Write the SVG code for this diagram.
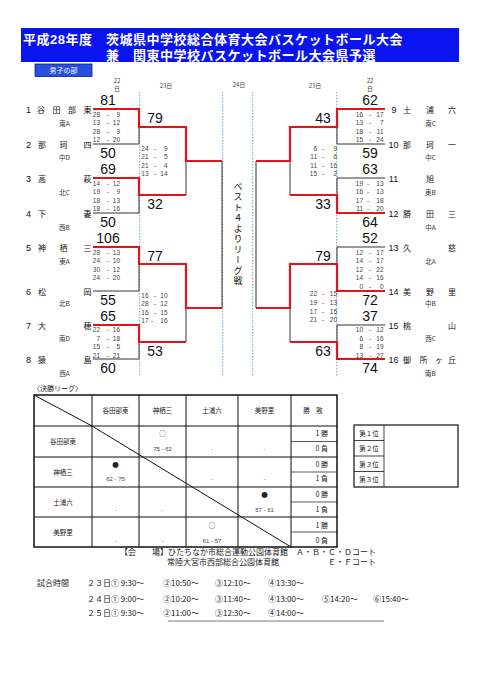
<svg xmlns="http://www.w3.org/2000/svg" width="481" height="680" viewBox="0 0 481 680">
<style>
text{font-family:"Liberation Sans","Noto Sans CJK JP",sans-serif;fill:#222}
.jp{font-family:"Noto Sans CJK JP","Liberation Sans",sans-serif}
.ttl{font-family:"Liberation Sans","Noto Sans CJK JP",sans-serif;font-weight:bold;font-size:13px;fill:#fff;letter-spacing:0.5px}
.nm{font-family:"Noto Sans CJK JP",sans-serif;font-size:8px;fill:#111}
.no{font-size:9px;text-anchor:middle;fill:#111}
.rg{font-family:"Noto Sans CJK JP",sans-serif;font-size:6.5px;text-anchor:middle;fill:#333}
.big{font-size:14px;text-anchor:middle;fill:#111}
.sc{font-size:6.5px;fill:#444}
.e{text-anchor:end}
.m{text-anchor:middle}
.dt{font-family:"Noto Sans CJK JP",sans-serif;font-size:6px;text-anchor:middle;fill:#444}
.red{fill:none;stroke:#e5121b;stroke-width:2.2}
.blk{fill:none;stroke:#333;stroke-width:1}
.dot{stroke:#6fa0d8;stroke-width:1;stroke-dasharray:1.5 1.5}
.tb{font-family:"Noto Sans CJK JP",sans-serif;font-size:6.5px;text-anchor:middle;fill:#222}
.ts{font-size:6px;text-anchor:middle;fill:#444}
.tw{font-family:"Noto Sans CJK JP",sans-serif;font-size:7px;text-anchor:end;fill:#222}
.ft{font-family:"Noto Sans CJK JP",sans-serif;font-size:8px;fill:#222}
</style>

<g id="header">
<rect x="21" y="28" width="438" height="34" fill="#0a14f0"/>
<text class="ttl" x="23" y="44">平成28年度</text>
<text class="ttl" x="106" y="44">茨城県中学校総合体育大会バスケットボール大会</text>
<text class="ttl" x="106" y="60">兼</text>
<text class="ttl" x="133" y="60">関東中学校バスケットボール大会県予選</text>
<rect x="35" y="64" width="57" height="12.5" fill="#2850e0" stroke="#1a1a70" stroke-width="0.8"/>
<text class="jp" x="63.5" y="73" font-size="7" text-anchor="middle" style="fill:#fff">男子の部</text>
</g>

<g id="dates">
<text class="dt" x="117" y="83">22</text><text class="dt" x="117" y="91">日</text>
<text class="dt" x="166" y="88">23日</text>
<text class="dt" x="239" y="87">24日</text>
<text class="dt" x="315" y="88">23日</text>
<text class="dt" x="370" y="83">22</text><text class="dt" x="370" y="91">日</text>
</g>

<g id="guides">
<line class="dot" x1="139.7" y1="92" x2="139.7" y2="377"/>
<line class="dot" x1="222.7" y1="92" x2="222.7" y2="377"/>
<line class="dot" x1="252.7" y1="92" x2="252.7" y2="377"/>
<line class="dot" x1="336.7" y1="92" x2="336.7" y2="377"/>
</g>

<g id="connectors">
<path class="blk" d="M93,144H139V127"/>
<path class="blk" d="M93,213H139V195"/>
<path class="blk" d="M186,161V195"/>
<path class="blk" d="M93,291H139V264"/>
<path class="blk" d="M93,359H139V342"/>
<path class="blk" d="M186,308V342"/>
<path class="blk" d="M222,161V308"/>
<path class="red" d="M93,109H139V127H186V161H222"/>
<path class="red" d="M93,178H139V195H186"/>
<path class="red" d="M93,247H139V264H186V308H222"/>
<path class="red" d="M93,325H139V342H186"/>
<path class="blk" d="M385,144H337V127"/>
<path class="blk" d="M385,178H337V195"/>
<path class="blk" d="M290,161V195"/>
<path class="blk" d="M385,247H337V264"/>
<path class="blk" d="M385,325H337V342"/>
<path class="blk" d="M290,308V342"/>
<path class="blk" d="M256,161V308"/>
<path class="red" d="M385,109H337V127H290V161H256"/>
<path class="red" d="M385,213H337V195H290"/>
<path class="red" d="M385,291H337V264H290V308H256"/>
<path class="red" d="M385,359H337V342H290"/>
</g>

<g id="team-1"><text class="no" x="28.5" y="113">1</text><text class="nm" y="113"><tspan x="37">谷</tspan><tspan x="52.5">田</tspan><tspan x="68">部</tspan><tspan x="83.5">東</tspan></text><text class="rg" x="64.5" y="125.6">南A</text><text class="big" x="108" y="105">81</text></g>
<g id="team-2"><text class="no" x="28.5" y="148">2</text><text class="nm" y="148"><tspan x="38">那</tspan><tspan x="59.5">珂</tspan><tspan x="83.5">四</tspan></text><text class="rg" x="64.5" y="159.6">中D</text><text class="big" x="108" y="158">50</text></g>
<g id="team-3"><text class="no" x="28.5" y="182">3</text><text class="nm" y="182"><tspan x="38">高</tspan><tspan x="83.5">萩</tspan></text><text class="rg" x="64.5" y="194.6">北C</text><text class="big" x="108" y="174">69</text></g>
<g id="team-4"><text class="no" x="28.5" y="217">4</text><text class="nm" y="217"><tspan x="38">下</tspan><tspan x="83.5">妻</tspan></text><text class="rg" x="64.5" y="229.6">西B</text><text class="big" x="108" y="227">50</text></g>
<g id="team-5"><text class="no" x="28.5" y="251">5</text><text class="nm" y="251"><tspan x="38">神</tspan><tspan x="59.5">栖</tspan><tspan x="83.5">三</tspan></text><text class="rg" x="64.5" y="263.6">東A</text><text class="big" x="108" y="243">106</text></g>
<g id="team-6"><text class="no" x="28.5" y="295">6</text><text class="nm" y="295"><tspan x="38">松</tspan><tspan x="83.5">岡</tspan></text><text class="rg" x="64.5" y="305.6">北B</text><text class="big" x="108" y="305">55</text></g>
<g id="team-7"><text class="no" x="28.5" y="329">7</text><text class="nm" y="329"><tspan x="38">大</tspan><tspan x="83.5">穂</tspan></text><text class="rg" x="64.5" y="340.6">南D</text><text class="big" x="108" y="321">65</text></g>
<g id="team-8"><text class="no" x="28.5" y="363">8</text><text class="nm" y="363"><tspan x="38">猿</tspan><tspan x="83.5">島</tspan></text><text class="rg" x="64.5" y="375.6">西A</text><text class="big" x="108" y="373">60</text></g>

<g id="team-9"><text class="no" x="394" y="113">9</text><text class="nm" y="113"><tspan x="403">土</tspan><tspan x="426">浦</tspan><tspan x="448">六</tspan></text><text class="rg" x="430.5" y="125.6">南C</text><text class="big" x="370" y="105">62</text></g>
<g id="team-10"><text class="no" x="393.5" y="148">10</text><text class="nm" y="148"><tspan x="403">那</tspan><tspan x="426">珂</tspan><tspan x="448">一</tspan></text><text class="rg" x="430.5" y="159.6">中C</text><text class="big" x="370" y="158">59</text></g>
<g id="team-11"><text class="no" x="393.5" y="182">11</text><text class="nm" y="182"><tspan x="426">旭</tspan></text><text class="rg" x="430.5" y="194.6">東B</text><text class="big" x="370" y="174">63</text></g>
<g id="team-12"><text class="no" x="393.5" y="217">12</text><text class="nm" y="217"><tspan x="403">勝</tspan><tspan x="426">田</tspan><tspan x="448">三</tspan></text><text class="rg" x="430.5" y="229.6">中A</text><text class="big" x="370" y="227">64</text></g>
<g id="team-13"><text class="no" x="393.5" y="251">13</text><text class="nm" y="251"><tspan x="403">久</tspan><tspan x="448">慈</tspan></text><text class="rg" x="430.5" y="263.6">北A</text><text class="big" x="370" y="243">52</text></g>
<g id="team-14"><text class="no" x="393.5" y="295">14</text><text class="nm" y="295"><tspan x="403">美</tspan><tspan x="426">野</tspan><tspan x="448">里</tspan></text><text class="rg" x="430.5" y="305.6">中B</text><text class="big" x="370" y="305">72</text></g>
<g id="team-15"><text class="no" x="393.5" y="329">15</text><text class="nm" y="329"><tspan x="403">桃</tspan><tspan x="448">山</tspan></text><text class="rg" x="430.5" y="340.6">西C</text><text class="big" x="370" y="321">37</text></g>
<g id="team-16"><text class="no" x="393.5" y="363">16</text><text class="nm" y="363"><tspan x="403">御</tspan><tspan x="419.5">所</tspan><tspan x="435">ヶ</tspan><tspan x="448">丘</tspan></text><text class="rg" x="430.5" y="375.6">南B</text><text class="big" x="370" y="373">74</text></g>

<g id="r2-left">
<text class="big" x="155" y="123">79</text><text class="big" x="155" y="209">32</text>
<text class="big" x="155" y="261">77</text><text class="big" x="155" y="356">53</text>
</g>
<g id="r2-right">
<text class="big" x="323" y="123">43</text><text class="big" x="323" y="209">33</text>
<text class="big" x="323" y="261">79</text><text class="big" x="323" y="356">63</text>
</g>

<g id="set-scores-left-r1" class="sc">
<text class="sc e" x="100" y="116.5">28</text><text class="sc m" x="108" y="116.5">-</text><text class="sc e" x="120" y="116.5">9</text>
<text class="sc e" x="100" y="125">13</text><text class="sc m" x="108" y="125">-</text><text class="sc e" x="120" y="125">12</text>
<text class="sc e" x="100" y="133.5">28</text><text class="sc m" x="108" y="133.5">-</text><text class="sc e" x="120" y="133.5">9</text>
<text class="sc e" x="100" y="142">12</text><text class="sc m" x="108" y="142">-</text><text class="sc e" x="120" y="142">20</text>
<text class="sc e" x="100" y="185.5">14</text><text class="sc m" x="108" y="185.5">-</text><text class="sc e" x="120" y="185.5">12</text>
<text class="sc e" x="100" y="194">19</text><text class="sc m" x="108" y="194">-</text><text class="sc e" x="120" y="194">9</text>
<text class="sc e" x="100" y="202.5">18</text><text class="sc m" x="108" y="202.5">-</text><text class="sc e" x="120" y="202.5">13</text>
<text class="sc e" x="100" y="211">18</text><text class="sc m" x="108" y="211">-</text><text class="sc e" x="120" y="211">16</text>
<text class="sc e" x="100" y="254.5">28</text><text class="sc m" x="108" y="254.5">-</text><text class="sc e" x="120" y="254.5">13</text>
<text class="sc e" x="100" y="263">24</text><text class="sc m" x="108" y="263">-</text><text class="sc e" x="120" y="263">10</text>
<text class="sc e" x="100" y="271.5">30</text><text class="sc m" x="108" y="271.5">-</text><text class="sc e" x="120" y="271.5">12</text>
<text class="sc e" x="100" y="280">24</text><text class="sc m" x="108" y="280">-</text><text class="sc e" x="120" y="280">20</text>
<text class="sc e" x="100" y="332">22</text><text class="sc m" x="108" y="332">-</text><text class="sc e" x="120" y="332">16</text>
<text class="sc e" x="100" y="340.5">7</text><text class="sc m" x="108" y="340.5">-</text><text class="sc e" x="120" y="340.5">18</text>
<text class="sc e" x="100" y="349">15</text><text class="sc m" x="108" y="349">-</text><text class="sc e" x="120" y="349">5</text>
<text class="sc e" x="100" y="357.5">21</text><text class="sc m" x="108" y="357.5">-</text><text class="sc e" x="120" y="357.5">21</text>
</g>
<g id="set-scores-left-r2">
<text class="sc e" x="148.5" y="150.5">24</text><text class="sc m" x="155" y="150.5">-</text><text class="sc e" x="167.5" y="150.5">9</text>
<text class="sc e" x="148.5" y="159">21</text><text class="sc m" x="155" y="159">-</text><text class="sc e" x="167.5" y="159">5</text>
<text class="sc e" x="148.5" y="167.5">21</text><text class="sc m" x="155" y="167.5">-</text><text class="sc e" x="167.5" y="167.5">4</text>
<text class="sc e" x="148.5" y="176">13</text><text class="sc m" x="155" y="176">-</text><text class="sc e" x="167.5" y="176">14</text>
<text class="sc e" x="148.5" y="297.5">16</text><text class="sc m" x="155" y="297.5">-</text><text class="sc e" x="167.5" y="297.5">10</text>
<text class="sc e" x="148.5" y="306">28</text><text class="sc m" x="155" y="306">-</text><text class="sc e" x="167.5" y="306">12</text>
<text class="sc e" x="148.5" y="314.5">16</text><text class="sc m" x="155" y="314.5">-</text><text class="sc e" x="167.5" y="314.5">15</text>
<text class="sc e" x="148.5" y="323">17</text><text class="sc m" x="152" y="323">-</text><text class="sc e" x="167.5" y="323">16</text>
</g>
<g id="set-scores-right-r1">
<text class="sc e" x="363" y="116.5">16</text><text class="sc m" x="370" y="116.5">-</text><text class="sc e" x="383.5" y="116.5">17</text>
<text class="sc e" x="363" y="125">13</text><text class="sc m" x="370" y="125">-</text><text class="sc e" x="383.5" y="125">7</text>
<text class="sc e" x="363" y="133.5">18</text><text class="sc m" x="370" y="133.5">-</text><text class="sc e" x="383.5" y="133.5">11</text>
<text class="sc e" x="363" y="142">15</text><text class="sc m" x="370" y="142">-</text><text class="sc e" x="383.5" y="142">24</text>
<text class="sc e" x="363" y="185.5">19</text><text class="sc m" x="368" y="185.5">-</text><text class="sc e" x="383.5" y="185.5">13</text>
<text class="sc e" x="363" y="194">16</text><text class="sc m" x="368" y="194">-</text><text class="sc e" x="383.5" y="194">13</text>
<text class="sc e" x="363" y="202.5">17</text><text class="sc m" x="368" y="202.5">-</text><text class="sc e" x="383.5" y="202.5">18</text>
<text class="sc e" x="363" y="211">11</text><text class="sc m" x="368" y="211">-</text><text class="sc e" x="383.5" y="211">20</text>
<text class="sc e" x="363" y="254.5">12</text><text class="sc m" x="370" y="254.5">-</text><text class="sc e" x="383.5" y="254.5">17</text>
<text class="sc e" x="363" y="263">14</text><text class="sc m" x="370" y="263">-</text><text class="sc e" x="383.5" y="263">17</text>
<text class="sc e" x="363" y="271.5">12</text><text class="sc m" x="370" y="271.5">-</text><text class="sc e" x="383.5" y="271.5">22</text>
<text class="sc e" x="363" y="280">14</text><text class="sc m" x="370" y="280">-</text><text class="sc e" x="383.5" y="280">16</text>
<text class="sc e" x="363" y="288.5">0</text><text class="sc m" x="370" y="288.5">-</text><text class="sc e" x="383.5" y="288.5">0</text>
<text class="sc e" x="363" y="332">10</text><text class="sc m" x="370" y="332">-</text><text class="sc e" x="383.5" y="332">12</text>
<text class="sc e" x="363" y="340.5">6</text><text class="sc m" x="370" y="340.5">-</text><text class="sc e" x="383.5" y="340.5">16</text>
<text class="sc e" x="363" y="349">8</text><text class="sc m" x="370" y="349">-</text><text class="sc e" x="383.5" y="349">19</text>
<text class="sc e" x="363" y="357.5">13</text><text class="sc m" x="370" y="357.5">-</text><text class="sc e" x="383.5" y="357.5">27</text>
</g>
<g id="set-scores-right-r2">
<text class="sc e" x="317" y="150.5">6</text><text class="sc m" x="323" y="150.5">-</text><text class="sc e" x="337" y="150.5">9</text>
<text class="sc e" x="317" y="159">11</text><text class="sc m" x="323" y="159">-</text><text class="sc e" x="337" y="159">6</text>
<text class="sc e" x="317" y="167.5">11</text><text class="sc m" x="323" y="167.5">-</text><text class="sc e" x="337" y="167.5">16</text>
<text class="sc e" x="317" y="176">15</text><text class="sc m" x="323" y="176">-</text><text class="sc e" x="337" y="176">2</text>
<text class="sc e" x="317" y="295.5">22</text><text class="sc m" x="323" y="295.5">-</text><text class="sc e" x="337" y="295.5">15</text>
<text class="sc e" x="317" y="304.5">19</text><text class="sc m" x="323" y="304.5">-</text><text class="sc e" x="337" y="304.5">13</text>
<text class="sc e" x="317" y="313.5">17</text><text class="sc m" x="323" y="313.5">-</text><text class="sc e" x="337" y="313.5">15</text>
<text class="sc e" x="317" y="322">21</text><text class="sc m" x="323" y="322">-</text><text class="sc e" x="337" y="322">20</text>
</g>

<g id="league-note">
<text x="238" y="182" class="jp" font-size="9" letter-spacing="1.5" style="writing-mode:vertical-rl;text-orientation:upright;fill:#111">ベスト４よりリーグ戦</text>
</g>

<g id="league-table">
<text class="jp" x="33" y="391" font-size="7" style="fill:#222">〈決勝リーグ〉</text>
<rect x="34" y="395" width="303" height="152" fill="none" stroke="#111" stroke-width="1.5"/>
<g stroke="#111" stroke-width="1" fill="none">
<line x1="92" y1="395" x2="92" y2="547"/>
<line x1="139" y1="395" x2="139" y2="547"/>
<line x1="186" y1="395" x2="186" y2="547"/>
<line x1="238" y1="395" x2="238" y2="547"/>
<line x1="291" y1="395" x2="291" y2="547"/>
<line x1="34" y1="426" x2="337" y2="426"/>
<line x1="34" y1="457" x2="337" y2="457"/>
<line x1="34" y1="487" x2="337" y2="487"/>
<line x1="34" y1="517" x2="337" y2="517"/>
<line x1="291" y1="441.5" x2="337" y2="441.5" stroke-width="0.7"/>
<line x1="291" y1="472" x2="337" y2="472" stroke-width="0.7"/>
<line x1="291" y1="502" x2="337" y2="502" stroke-width="0.7"/>
<line x1="291" y1="532" x2="337" y2="532" stroke-width="0.7"/>
<line x1="34" y1="395" x2="92" y2="426"/>
<line x1="92" y1="426" x2="291" y2="547"/>
</g>
<text class="tb" x="115.5" y="413">谷田部東</text>
<text class="tb" x="162.5" y="413">神栖三</text>
<text class="tb" x="212" y="413">土浦六</text>
<text class="tb" x="264.5" y="413">美野里</text>
<text class="tb" x="313" y="413" font-size="7">勝　敗</text>
<text class="tb" x="63" y="444" font-size="7">谷田部東</text>
<text class="tb" x="63" y="475" font-size="7">神栖三</text>
<text class="tb" x="63" y="505" font-size="7">土浦六</text>
<text class="tb" x="63" y="535" font-size="7">美野里</text>

<text class="tb" x="162.5" y="436" font-size="8">○</text>
<text class="ts" x="162.5" y="451">75  -  62</text>
<text class="ts" x="212" y="451">-</text><text class="ts" x="264.5" y="451">-</text>
<text class="tw" x="328" y="436">1 勝</text><text class="tw" x="328" y="451">0 負</text>

<text class="tb" x="115.5" y="467" font-size="8">●</text>
<text class="ts" x="115.5" y="481">62  -  75</text>
<text class="ts" x="212" y="481">-</text><text class="ts" x="264.5" y="481">-</text>
<text class="tw" x="328" y="467">0 勝</text><text class="tw" x="328" y="481">1 負</text>

<text class="tb" x="264.5" y="497" font-size="8">●</text>
<text class="ts" x="264.5" y="512">57  -  61</text>
<text class="ts" x="115.5" y="512">-</text><text class="ts" x="162.5" y="512">-</text>
<text class="tw" x="328" y="497">0 勝</text><text class="tw" x="328" y="512">1 負</text>

<text class="tb" x="212" y="528" font-size="8">○</text>
<text class="ts" x="212" y="543">61  -  57</text>
<text class="ts" x="115.5" y="543">-</text><text class="ts" x="162.5" y="543">-</text>
<text class="tw" x="328" y="528">1 勝</text><text class="tw" x="328" y="543">0 負</text>
</g>

<g id="ranking">
<rect x="354" y="425" width="104" height="62" fill="none" stroke="#111" stroke-width="1.2"/>
<g stroke="#111" stroke-width="0.8">
<line x1="384" y1="425" x2="384" y2="487"/>
<line x1="354" y1="440.5" x2="384" y2="440.5"/>
<line x1="354" y1="456" x2="384" y2="456"/>
<line x1="354" y1="471.5" x2="384" y2="471.5"/>
</g>
<text class="tb" x="369" y="435.5" font-size="7">第１位</text>
<text class="tb" x="369" y="451" font-size="7">第２位</text>
<text class="tb" x="369" y="466.5" font-size="7">第３位</text>
<text class="tb" x="369" y="482" font-size="7">第３位</text>
</g>

<g id="venue">
<text class="ft" x="120" y="555">【会　　場】ひたちなか市総合運動公園体育館</text>
<text class="ft" x="296" y="555">Ａ・Ｂ・Ｃ・Ｄコート</text>
<text class="ft" x="167" y="565">常陸大宮市西部総合公園体育館</text>
<text class="ft" x="328" y="565">Ｅ・Ｆコート</text>
</g>

<g id="schedule">
<text class="ft" x="37" y="586">試合時間</text>
<text class="ft" x="87" y="586">２３日① 9:30～</text>
<text class="ft" x="163" y="586">②10:50～</text>
<text class="ft" x="215" y="586">③12:10～</text>
<text class="ft" x="268" y="586">④13:30～</text>
<text class="ft" x="87" y="602">２４日① 9:00～</text>
<text class="ft" x="163" y="602">②10:20～</text>
<text class="ft" x="215" y="602">③11:40～</text>
<text class="ft" x="268" y="602">④13:00～</text>
<text class="ft" x="322" y="602">⑤14:20～</text>
<text class="ft" x="373" y="602">⑥15:40～</text>
<text class="ft" x="87" y="616">２５日① 9:30～</text>
<text class="ft" x="163" y="616">②11:00～</text>
<text class="ft" x="215" y="616">③12:30～</text>
<text class="ft" x="268" y="616">④14:00～</text>
<line x1="168" y1="621" x2="384" y2="621" stroke="#555" stroke-width="0.8"/>
</g>
</svg>
